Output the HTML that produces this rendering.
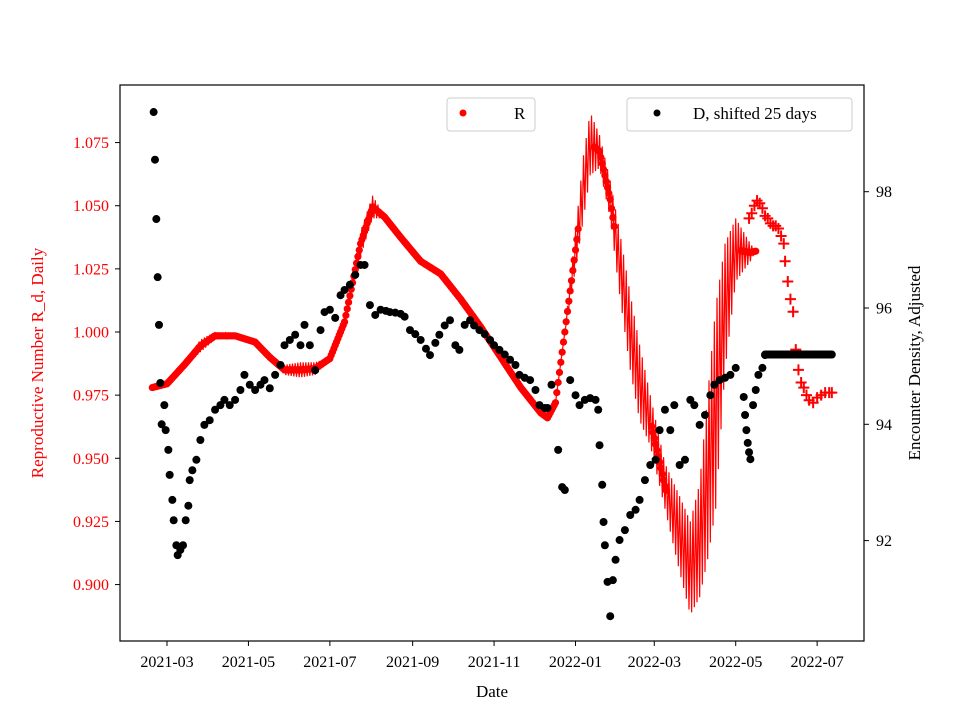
<!DOCTYPE html>
<html><head><meta charset="utf-8"><style>
body{margin:0;background:#fff}
svg{display:block;font-family:"Liberation Serif",serif}
</style></head><body>
<svg id="chart" width="960" height="720" viewBox="0 0 960 720" xmlns="http://www.w3.org/2000/svg">
<rect width="960" height="720" fill="#fff"/>
<g id="marks"></g>
<rect x="120" y="85" width="744" height="556" fill="none" stroke="#000" stroke-width="1.2"/>
<g id="axes"></g>
<text x="492" y="697" font-size="17" text-anchor="middle">Date</text>
<text transform="translate(43,363) rotate(-90)" font-size="17" fill="#ff0000" text-anchor="middle">Reproductive Number R_d, Daily</text>
<text transform="translate(920,363) rotate(-90)" font-size="17" text-anchor="middle">Encounter Density, Adjusted</text>
<g>
<rect x="447" y="98" width="88" height="33" rx="3" fill="#fff" stroke="#ccc"/>
<circle cx="463" cy="113" r="3.5" fill="#ff0000"/>
<text x="514" y="119" font-size="17">R</text>
</g>
<g>
<rect x="627" y="98" width="225" height="33" rx="3" fill="#fff" stroke="#ccc"/>
<circle cx="657" cy="113" r="3.5" fill="#000"/>
<text x="693" y="119" font-size="17">D, shifted 25 days</text>
</g>
</svg>
<script>
// x: days since 2021-03-01
const xTickLabels=["2021-03","2021-05","2021-07","2021-09","2021-11","2022-01","2022-03","2022-05","2022-07"];
const xTickDays=[0,61,122,184,245,306,365,426,487];
const leftTicks=[0.900,0.925,0.950,0.975,1.000,1.025,1.050,1.075];
const rightTicks=[92,94,96,98];
// R envelope keypoints: day, low, high
const rDays=[-11,0,13,25,36,51,66,77,88,100,111,122,133,145,154,163,175,190,205,220,235,250,265,280,285,291,298,306,312,317,324,332,339,347,354,362,373,384,392,399,405,411,418,426,437,441];
const rLow=[0.978,0.979,0.986,0.992,0.997,0.998,0.996,0.990,0.983,0.982,0.983,0.989,1.003,1.030,1.045,1.045,1.037,1.028,1.023,1.013,1.002,0.990,0.978,0.968,0.966,0.972,1.000,1.025,1.045,1.062,1.065,1.045,1.015,0.985,0.965,0.955,0.930,0.905,0.888,0.895,0.910,0.930,0.985,1.020,1.028,1.032];
const rHigh=[0.978,0.980,0.988,0.997,1.000,0.999,0.996,0.990,0.987,0.988,0.988,0.990,1.005,1.040,1.054,1.046,1.038,1.028,1.023,1.013,1.002,0.990,0.978,0.968,0.966,0.972,1.000,1.040,1.070,1.087,1.078,1.060,1.040,1.015,0.995,0.975,0.948,0.935,0.925,0.940,0.975,1.010,1.035,1.045,1.035,1.032];
// R extrapolated (+ markers)
const pDays=[436,438,440,442,444,446,448,450,452,454,456,458,460,462,463,465,467,469,471,473,475,477,479,481,484,487,490,493,496,498];
const pVals=[1.045,1.047,1.050,1.052,1.051,1.049,1.046,1.045,1.043,1.042,1.042,1.041,1.038,1.035,1.028,1.020,1.013,1.008,0.993,0.985,0.980,0.978,0.975,0.973,0.972,0.974,0.975,0.976,0.976,0.976];
// D, shifted 25 days
const dDays=[-10,-9,-8,-7,-6,-5,-4,-2,-1,1,2,4,5,7,8,10,12,14,16,17,19,22,25,28,32,36,40,43,47,51,55,58,62,66,70,73,77,81,85,88,92,96,100,103,107,111,115,118,122,126,130,133,137,141,145,148,152,156,160,164,167,171,175,178,182,186,190,194,197,201,204,208,212,216,219,223,227,230,234,238,242,245,249,253,257,261,264,268,272,276,279,283,285,288,293,296,298,302,306,309,313,317,321,323,324,326,327,328,330,332,334,336,339,343,347,351,354,358,362,366,369,373,377,380,384,388,392,395,399,403,407,410,414,418,422,426,432,433,434,435,436,437,439,441,443,446,448];
const dVals=[99.37,98.55,97.53,96.53,95.71,94.71,94.00,94.33,93.90,93.56,93.13,92.70,92.35,91.92,91.75,91.84,91.92,92.35,92.60,93.04,93.21,93.39,93.73,93.99,94.07,94.25,94.33,94.42,94.33,94.42,94.59,94.85,94.68,94.59,94.68,94.76,94.62,94.85,95.02,95.36,95.45,95.54,95.36,95.71,95.36,94.93,95.62,95.93,95.97,95.83,96.22,96.31,96.40,96.57,96.74,96.74,96.05,95.88,95.97,95.95,95.93,95.92,95.90,95.85,95.62,95.55,95.45,95.30,95.19,95.40,95.54,95.70,95.79,95.36,95.28,95.71,95.79,95.70,95.62,95.55,95.45,95.36,95.28,95.20,95.11,95.02,94.85,94.80,94.76,94.59,94.33,94.28,94.28,94.68,93.56,92.92,92.87,94.76,94.50,94.33,94.42,94.45,94.42,94.25,93.64,92.96,92.32,91.92,91.29,90.70,91.32,91.67,92.01,92.18,92.44,92.53,92.70,93.04,93.30,93.39,93.90,94.25,93.90,94.33,93.30,93.39,94.42,94.33,93.99,94.16,94.50,94.68,94.76,94.80,94.85,94.97,94.47,94.16,93.90,93.68,93.52,93.40,94.33,94.59,94.85,94.97,95.19];
const dFlatStart=448, dFlatEnd=498, dFlatVal=95.2;

const NS="http://www.w3.org/2000/svg";
const xS=d=>167+d*1.335;
const yL=v=>332-(v-1)/0.025*63.14;
const yR=v=>308-(v-96)*58.15;
const marks=document.getElementById('marks'), axes=document.getElementById('axes');
function mk(tag,attrs,parent){const e=document.createElementNS(NS,tag);for(const k in attrs)e.setAttribute(k,attrs[k]);parent.appendChild(e);return e;}

xTickDays.forEach((d,i)=>{
  const x=xS(d);
  const t=mk('line',{x1:x,x2:x,y1:641,y2:646,stroke:'#000'},axes);
  
  
  const l=mk('text',{x:x,y:667,'font-size':16,'text-anchor':'middle'},axes);l.textContent=xTickLabels[i];
  
  
});
leftTicks.forEach(v=>{
  const y=yL(v);
  const t=mk('line',{x1:115,x2:120,y1:y,y2:y,stroke:'#000'},axes);
  
  
  const l=mk('text',{x:109,y:y+5.5,'font-size':16,'text-anchor':'end',fill:'#ff0000'},axes);l.textContent=v.toFixed(3);
  
  
});
rightTicks.forEach(v=>{
  const y=yR(v);
  const t=mk('line',{x1:864,x2:869,y1:y,y2:y,stroke:'#000'},axes);
  
  
  const l=mk('text',{x:876,y:y+5.5,'font-size':16},axes);l.textContent=v;
  
  
});

function env(arr,d){for(let i=0;i<rDays.length-1;i++){if(d<=rDays[i+1]){const f=(d-rDays[i])/(rDays[i+1]-rDays[i]);return arr[i]+f*(arr[i+1]-arr[i]);}}return arr[arr.length-1];}
let pts=[];const rg=mk('g',{},marks);


for(let d=rDays[0];d<=rDays[rDays.length-1];d++){
  const lo=env(rLow,d),hi=env(rHigh,d);
  const v=(d%2===0)?hi:lo;
  pts.push(xS(d)+','+yL(v));
  if(hi-lo<0.02){const c=mk('circle',{cx:xS(d),cy:yL((hi+lo)/2),r:3.6,fill:'#ff0000'},rg);
    
    }
}
const pl=mk('polyline',{points:pts.join(' '),fill:'none',stroke:'#ff0000','stroke-width':1.2},rg);


pDays.forEach((d,i)=>{
  const x=xS(d),y=yL(pVals[i]);
  const p=mk('path',{d:`M${x-5.5},${y}H${x+5.5}M${x},${y-5.5}V${y+5.5}`,stroke:'#ff0000','stroke-width':2},rg);
  
  
});
const dg=mk('g',{},marks);


dDays.forEach((d,i)=>{
  const c=mk('circle',{cx:xS(d),cy:yR(dVals[i]),r:4,fill:'#000'},dg);
  
  
});
for(let d=dFlatStart;d<=dFlatEnd;d++){
  const c=mk('circle',{cx:xS(d),cy:yR(dFlatVal),r:4,fill:'#000'},dg);
  
  
}
</script>
</body></html>
